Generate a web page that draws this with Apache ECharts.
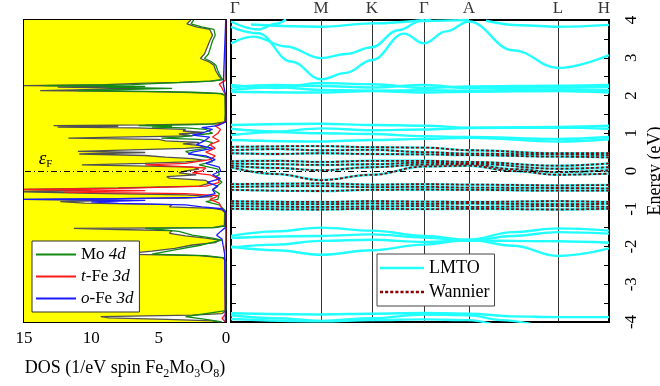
<!DOCTYPE html>
<html><head><meta charset="utf-8">
<script src="https://cdn.jsdelivr.net/npm/echarts@6/dist/echarts.min.js"></script>
<style>html,body{margin:0;padding:0;background:#fff}#c{width:660px;height:386px}</style>
</head><body><div id="c"></div>
<script>
// ---------- DATA ----------
// DOS arrays: [energy (eV), DOS (1/eV spin f.u.)]
const totalDos = [[4.0,2.6],[3.9,2.9],[3.82,2.2],[3.75,1.2],[3.6,1.0],[3.45,1.2],[3.1,1.6],[2.98,1.9],[2.9,1.3],[2.8,0.9],[2.65,0.75],[2.5,0.5],[2.42,0.3],[2.38,1.2],[2.35,3.5],[2.32,6.5],[2.29,9],[2.26,15],[2.24,8],[2.22,12.5],[2.19,6],[2.16,9.5],[2.13,13.8],[2.1,6],[2.08,2.5],[2.05,0.4],[2.0,0.08],[1.5,0.05],[1.3,0.1],[1.25,1],[1.22,6],[1.2,12.8],[1.18,8],[1.16,12.5],[1.14,6.7],[1.1,3],[1.06,3.2],[1.02,1.6],[0.98,3.5],[0.93,2.5],[0.9,8],[0.87,11.7],[0.84,5],[0.8,4.5],[0.76,2],[0.72,3.2],[0.68,2.0],[0.63,1.5],[0.6,3],[0.56,7],[0.52,11],[0.49,6],[0.45,10.9],[0.41,6],[0.37,4.5],[0.33,2.5],[0.28,1.5],[0.24,3],[0.2,6],[0.16,10.7],[0.13,5.8],[0.1,2.5],[0.05,2],[0.0,3],[-0.05,3.5],[-0.1,2.2],[-0.15,4.4],[-0.19,4.2],[-0.25,1.5],[-0.32,1.2],[-0.4,2],[-0.45,8],[-0.49,15],[-0.52,10],[-0.55,15],[-0.59,10],[-0.63,3],[-0.68,1.0],[-0.72,3],[-0.75,15],[-0.78,8],[-0.81,12.3],[-0.85,10.5],[-0.89,4],[-0.95,4.2],[-0.99,1],[-1.03,0.3],[-1.1,0.1],[-1.45,0.12],[-1.5,1.0],[-1.52,11.3],[-1.55,8],[-1.58,4],[-1.65,4.2],[-1.72,3],[-1.78,1.5],[-1.83,0.5],[-1.9,0.8],[-1.96,2.5],[-2.05,3.8],[-2.12,5.5],[-2.2,7.8],[-2.24,2],[-2.3,0.2],[-2.4,0.03],[-3.7,0.03],[-3.78,0.3],[-3.82,2.5],[-3.86,9.3],[-3.89,8.7],[-3.93,4.4],[-3.97,1.0],[-4.0,0.5]];
const moDos = [[4.0,2.4],[3.9,2.6],[3.82,1.8],[3.75,0.9],[3.6,0.8],[3.45,1.0],[3.1,1.3],[2.98,1.6],[2.9,1.1],[2.8,0.75],[2.65,0.6],[2.5,0.4],[2.42,0.25],[2.38,1.0],[2.35,3.0],[2.32,5.0],[2.29,7],[2.26,13.5],[2.24,6],[2.22,9],[2.19,4],[2.16,7],[2.13,11],[2.1,4.5],[2.08,2.0],[2.05,0.3],[2.0,0.05],[1.3,0.05],[1.25,0.6],[1.22,3],[1.2,6.5],[1.18,4],[1.16,5.5],[1.14,3],[1.1,1.5],[1.0,1.0],[0.9,3.5],[0.87,4.8],[0.84,2],[0.75,1],[0.6,1.5],[0.52,3],[0.45,2.6],[0.35,1.2],[0.25,1],[0.16,2],[0.05,0.6],[-0.1,0.5],[-0.15,0.8],[-0.3,0.3],[-0.49,1.0],[-0.6,0.5],[-0.75,0.6],[-0.81,1.5],[-0.9,0.5],[-1.05,0.05],[-1.45,0.05],[-1.5,0.8],[-1.52,6],[-1.55,5],[-1.6,3.5],[-1.7,2.5],[-1.78,1.0],[-1.83,0.3],[-1.96,1.8],[-2.1,4],[-2.2,5.5],[-2.24,1.5],[-2.3,0.1],[-2.4,0.02],[-3.7,0.02],[-3.86,3],[-3.93,1.5],[-4.0,0.3]];
const tFeDos = [[4.0,0.02],[2.4,0.05],[2.3,0.5],[2.2,0.3],[2.0,0.02],[1.3,0.02],[1.2,0.8],[1.1,0.4],[1.0,0.6],[0.9,1.0],[0.8,0.5],[0.7,1.2],[0.6,0.8],[0.5,1.5],[0.4,0.8],[0.3,1.2],[0.2,3.0],[0.16,6.0],[0.12,3.5],[0.08,1.5],[0.0,1.8],[-0.05,2.5],[-0.1,1.2],[-0.2,0.6],[-0.3,0.5],[-0.4,1.5],[-0.46,8],[-0.49,15],[-0.52,6],[-0.56,12],[-0.6,3],[-0.65,0.6],[-0.7,0.8],[-0.75,1.2],[-0.85,0.5],[-1.0,0.3],[-1.1,0.02],[-1.9,0.02],[-2.2,0.1],[-3.8,0.05],[-3.9,0.3],[-4.0,0.05]];
const oFeDos = [[4.0,0.02],[2.3,0.2],[2.0,0.02],[1.3,0.02],[1.2,0.6],[1.15,1.8],[1.1,1.0],[1.0,1.8],[0.95,2.5],[0.9,1.2],[0.8,1.6],[0.7,2.2],[0.6,1.0],[0.5,2.5],[0.45,2.8],[0.4,1.5],[0.3,0.8],[0.2,1.5],[0.1,0.5],[0.0,0.4],[-0.1,1.0],[-0.2,0.4],[-0.3,1.4],[-0.4,0.6],[-0.5,1.0],[-0.6,0.8],[-0.7,2],[-0.73,8],[-0.75,15],[-0.78,6],[-0.82,10],[-0.86,8],[-0.9,3],[-0.95,1.8],[-1.0,0.3],[-1.1,0.02],[-1.5,0.05],[-1.6,0.4],[-1.7,0.7],[-1.8,0.3],[-2.0,0.2],[-2.2,0.1],[-3.8,0.05],[-4.0,0.05]];

// k-path: distances along path and labels
const kPoints = [0, 90, 141, 193, 238, 327, 378];
const kLabels = ['Γ', 'M', 'K', 'Γ', 'A', 'L', 'H'];

// LMTO-only bands: [k, E]
const bandsUpper = [
  [[0,3.38],[22,3.56],[55,3.3],[90,2.99],[115,3.1],[141,3.28],[167,3.73],[190,3.97],[200,4.05]],
  [[0,3.82],[27,3.65],[60,2.9],[90,2.43],[115,2.6],[141,2.94],[173,3.64],[193,3.38],[215,3.7],[238,3.96],[282,3.2],[327,2.73],[378,3.07]],
  [[0,3.96],[27,3.75],[45,3.9],[55,4.02]],
  [[20,3.88],[90,3.82],[141,3.91],[193,4.0]],
  [[193,3.97],[238,4.0]],
  [[255,3.98],[290,3.86],[327,3.82],[378,3.87]],
  [[0,2.28],[45,2.2],[90,2.33],[141,2.3],[193,2.2],[238,2.24],[327,2.26],[378,2.28]],
  [[0,2.22],[45,2.28],[90,2.25],[141,2.21],[193,2.28],[238,2.2],[327,2.21],[378,2.23]],
  [[0,2.15],[45,2.22],[90,2.15],[141,2.13],[193,2.14],[238,2.13],[327,2.16],[378,2.15]],
  [[0,2.1],[90,2.08],[141,2.12],[193,2.08],[238,2.1],[327,2.12],[378,2.08]],
  [[0,1.22],[90,1.25],[141,1.22],[193,1.2],[238,1.15],[327,1.17],[378,1.2]],
  [[0,1.12],[45,1.05],[90,1.13],[141,1.08],[193,1.1],[238,1.14],[327,1.15],[378,1.12]],
  [[0,0.95],[45,1.03],[90,1.0],[141,0.98],[193,0.92],[238,0.9],[327,0.85],[378,0.9]],
  [[0,0.82],[90,0.78],[141,0.82],[193,0.85],[238,0.88],[327,0.78],[378,0.84]]
];
const bandsLower = [
  [[0,-1.72],[45,-1.6],[90,-1.5],[141,-1.58],[193,-1.72],[238,-1.82],[282,-1.62],[327,-1.52],[378,-1.58]],
  [[0,-1.77],[90,-1.72],[141,-1.68],[193,-1.76],[238,-1.85],[282,-1.72],[327,-1.62],[378,-1.66]],
  [[0,-2.0],[45,-2.1],[90,-2.22],[141,-2.1],[193,-1.95],[238,-1.82],[282,-1.98],[327,-2.25],[378,-2.05]],
  [[0,-2.03],[45,-1.95],[90,-1.85],[141,-1.82],[193,-1.88],[238,-1.84],[327,-1.86],[378,-1.9]],
  [[0,-3.77],[90,-3.8],[141,-3.78],[193,-3.76],[238,-3.78],[282,-3.85],[327,-3.87],[378,-3.87]],
  [[0,-3.82],[45,-3.9],[90,-3.97],[141,-3.9],[193,-3.8],[238,-3.82],[270,-3.95],[300,-4.05]],
  [[0,-3.92],[90,-3.98],[141,-3.95],[193,-3.93],[238,-3.95],[260,-4.05]]
];
// bands reproduced by the Wannier model (also present in LMTO)
const bandsWannier = [
  [[0,0.64],[90,0.66],[141,0.63],[193,0.62],[238,0.55],[327,0.47],[378,0.47]],
  [[0,0.55],[45,0.58],[90,0.55],[141,0.56],[193,0.5],[238,0.46],[327,0.44],[378,0.42]],
  [[0,0.47],[45,0.45],[90,0.47],[141,0.45],[193,0.44],[238,0.42],[327,0.38],[378,0.36]],
  [[0,0.26],[45,0.27],[90,0.24],[141,0.27],[193,0.27],[238,0.24],[327,0.14],[378,0.2]],
  [[0,0.2],[45,0.18],[90,0.16],[141,0.18],[193,0.22],[238,0.2],[327,0.06],[378,0.1]],
  [[0,0.14],[45,0.08],[90,0.02],[141,0.1],[193,0.17],[238,0.18],[282,0.05],[327,-0.03],[378,0.02]],
  [[0,0.1],[45,-0.08],[90,-0.24],[141,-0.1],[193,0.12],[238,0.14],[282,0.0],[327,-0.1],[378,-0.07]],
  [[0,-0.35],[90,-0.33],[141,-0.36],[193,-0.35],[238,-0.36],[327,-0.38],[378,-0.37]],
  [[0,-0.42],[90,-0.4],[141,-0.43],[193,-0.42],[238,-0.44],[327,-0.45],[378,-0.46]],
  [[0,-0.5],[90,-0.53],[141,-0.5],[193,-0.49],[238,-0.5],[327,-0.52],[378,-0.52]],
  [[0,-0.8],[90,-0.82],[141,-0.8],[193,-0.81],[238,-0.82],[327,-0.8],[378,-0.82]],
  [[0,-0.86],[90,-0.88],[141,-0.86],[193,-0.87],[238,-0.86],[327,-0.88],[378,-0.87]],
  [[0,-0.93],[90,-0.95],[141,-0.94],[193,-0.93],[238,-0.95],[327,-0.93],[378,-0.95]],
  [[0,-1.0],[90,-1.02],[141,-1.0],[193,-1.01],[238,-1.0],[327,-1.02],[378,-1.0]]
];

// ---------- CHART ----------
const FONT = 'Liberation Serif';
const chart = echarts.init(document.getElementById('c'), null, {renderer: 'canvas'});
const CYAN = '#22ffff', WRED = '#8b0000';
const efLine = {silent: true, symbol: 'none', label: {show: false},
  lineStyle: {color: '#000', width: 1, type: [6, 3, 1, 3]}, data: [{yAxis: 0}]};

function dosSeries(name, arr, color, z) {
  return {type: 'line', name: name, xAxisIndex: 0, yAxisIndex: 0, symbol: 'none',
    data: arr.map(d => [d[1], d[0]]), lineStyle: {color: color, width: 1.3}, itemStyle: {color: color},
    z: z};
}
const series = [];
// yellow DOS panel background (scaled by the axes)
series.push({type: 'custom', xAxisIndex: 0, yAxisIndex: 0, data: [[7, 0]], z: 1, silent: true,
  renderItem: function (params, api) {
    const p0 = api.coord([15, 4]), p1 = api.coord([0, -4]);
    return {type: 'rect', shape: {x: p0[0], y: p0[1], width: p1[0] - p0[0], height: p1[1] - p0[1]}, style: {fill: '#ffff00'}};
  }});
// white area under the total DOS: area fill toward DOS = 0, using a hidden linear energy axis as base axis
series.push({type: 'line', xAxisIndex: 0, yAxisIndex: 4, symbol: 'none', silent: true, z: 2,
  data: totalDos.map(d => [d[1], d[0]]),
  lineStyle: {width: 0, opacity: 0}, areaStyle: {color: '#ffffff', opacity: 1}});
series.push(Object.assign(dosSeries('Total', totalDos, '#505050', 3), {markLine: efLine,
  markPoint: {symbol: 'circle', symbolSize: 0, data: [{coord: [13.4, 0.33]}],
    label: {show: true, formatter: '{e|ε}{f|F}', rich: {
      e: {fontFamily: FONT, fontStyle: 'italic', fontSize: 19, color: '#000', verticalAlign: 'middle', lineHeight: 22},
      f: {fontFamily: FONT, fontSize: 11, color: '#000', verticalAlign: 'bottom', lineHeight: 12}}}}}));
series.push(dosSeries('Mo 4d', moDos, '#128a12', 4));
series.push(dosSeries('t-Fe 3d', tFeDos, '#ff1a1a', 5));
series.push(dosSeries('o-Fe 3d', oFeDos, '#1a1aff', 6));

// symmetry lines + labels
series.push({type: 'scatter', xAxisIndex: 2, yAxisIndex: 2, symbolSize: 0, clip: false, silent: true,
  data: kPoints.map((k, i) => ({value: [k, 4], label: {show: true, position: 'top', distance: 3,
    formatter: kLabels[i], fontFamily: FONT, fontSize: 17, color: '#000',
    align: i === 0 ? 'left' : (i === kPoints.length - 1 ? 'right' : 'center'),
    offset: i === 0 ? [-1, 0] : (i === kPoints.length - 1 ? [1, 0] : [0, 0])}})),
  markLine: {silent: true, symbol: 'none', label: {show: false}, z: 1,
    lineStyle: {color: '#333', width: 1, type: 'solid'},
    data: kPoints.slice(1, -1).map(k => ({xAxis: k}))}, z: 1});

function bandSeries(name, arr, color, width, type, z) {
  return {type: 'line', name: name, xAxisIndex: 2, yAxisIndex: 2, symbol: 'none', smooth: 0.4,
    smoothMonotone: 'x', data: arr, lineStyle: {color: color, width: width, type: type},
    itemStyle: {color: color}, z: z};
}
bandsUpper.concat(bandsLower).forEach(b => series.push(bandSeries('LMTO', b, CYAN, 2.4, 'solid', 3)));
bandsWannier.forEach(b => series.push(bandSeries('LMTO', b, CYAN, 2.4, 'solid', 3)));
bandsWannier.forEach(b => series.push(bandSeries('Wannier', b, WRED, 1.8, [3, 2], 4)));
series.push({type: 'line', xAxisIndex: 2, yAxisIndex: 2, data: [], markLine: efLine, z: 6});

const dosNames = {'Mo 4d': '{r|Mo }{i|4d}', 't-Fe 3d': '{i|t}{r|-Fe }{i|3d}', 'o-Fe 3d': '{i|o}{r|-Fe }{i|3d}'};
const richLeg = {r: {fontFamily: FONT, fontSize: 17, color: '#000'}, i: {fontFamily: FONT, fontSize: 17, fontStyle: 'italic', color: '#000'}};
const dashIcon = 'path://M0,0h3v2h-3z M5,0h3v2h-3z M10,0h3v2h-3z M15,0h3v2h-3z M20,0h3v2h-3z M25,0h3v2h-3z M30,0h3v2h-3z M35,0h3v2h-3z M40,0h3v2h-3z';

const option = {
  animation: false,
  backgroundColor: '#fff',
  grid: [
    {left: 24, top: 20, width: 202, height: 302, show: true, backgroundColor: 'transparent', borderColor: '#000', borderWidth: 2, outerBoundsMode: 'none'},
    {left: 231, top: 20, width: 378, height: 302, show: true, backgroundColor: 'transparent', borderColor: '#000', borderWidth: 2, outerBoundsMode: 'none'}
  ],
  xAxis: [
    {type: 'value', gridIndex: 0, min: 0, max: 15, interval: 2.5, inverse: true, position: 'bottom',
      axisLine: {show: false, onZero: false}, splitLine: {show: false},
      axisTick: {show: true, inside: true, length: 5, lineStyle: {color: '#000'}},
      axisLabel: {fontFamily: FONT, fontSize: 17, color: '#000', margin: 8,
        formatter: v => (v % 5 === 0 ? String(v) : '')},
      name: '{a|DOS (1/eV spin Fe}{s|2}{a|Mo}{s|3}{a|O}{s|8}{a|)}', nameLocation: 'middle', nameGap: 34,
      nameTextStyle: {rich: {a: {fontFamily: FONT, fontSize: 18, color: '#000', lineHeight: 24, verticalAlign: 'middle'},
        s: {fontFamily: FONT, fontSize: 12, color: '#000', lineHeight: 12, verticalAlign: 'bottom'}}}},
    {type: 'value', gridIndex: 0, min: 0, max: 15, interval: 2.5, inverse: true, position: 'top',
      axisLine: {show: false, onZero: false}, splitLine: {show: false}, axisLabel: {show: false},
      axisTick: {show: true, inside: true, length: 5, lineStyle: {color: '#000'}}},
    {type: 'value', gridIndex: 1, min: 0, max: 378, position: 'bottom',
      axisLine: {show: false, onZero: false}, splitLine: {show: false}, axisLabel: {show: false}, axisTick: {show: false}}
  ],
  yAxis: [
    {type: 'value', gridIndex: 0, min: -4, max: 4, interval: 1, position: 'left',
      axisLine: {show: false, onZero: false}, splitLine: {show: false}, axisLabel: {show: false},
      axisTick: {show: true, inside: true, length: 5, lineStyle: {color: '#000'}}},
    {type: 'value', gridIndex: 0, min: -4, max: 4, interval: 1, position: 'right',
      axisLine: {show: false, onZero: false}, splitLine: {show: false}, axisLabel: {show: false},
      axisTick: {show: true, inside: true, length: 5, lineStyle: {color: '#000'}}},
    {type: 'value', gridIndex: 1, min: -4, max: 4, interval: 0.5, position: 'left',
      axisLine: {show: false, onZero: false}, splitLine: {show: false}, axisLabel: {show: false},
      axisTick: {show: true, inside: true, length: 5, lineStyle: {color: '#000'}}},
    {type: 'value', gridIndex: 1, min: -4, max: 4, interval: 0.5, position: 'right',
      axisLine: {show: false, onZero: false}, splitLine: {show: false},
      axisTick: {show: true, inside: true, length: 5, lineStyle: {color: '#000'}},
      axisLabel: {fontFamily: FONT, fontSize: 17, color: '#000', rotate: 90, margin: 14,
        formatter: v => (Math.abs(v % 1) < 1e-9 ? String(v) : '')},
      name: 'Energy (eV)', nameLocation: 'middle', nameGap: 37, nameRotate: 90, nameMoveOverlap: false,
      nameTextStyle: {fontFamily: FONT, fontSize: 18, color: '#000'}},
    {type: 'time', gridIndex: 0, min: -4, max: 4, position: 'left', show: false,
      axisLine: {show: false, onZero: false}, splitLine: {show: false}, axisLabel: {show: false}, axisTick: {show: false}}
  ],
  legend: [
    {data: [{name: 'Mo 4d', icon: 'rect'}, {name: 't-Fe 3d', icon: 'rect'}, {name: 'o-Fe 3d', icon: 'rect'}],
      orient: 'vertical', left: 32, top: 241, symbolKeepAspect: false,
      padding: [4, 6, 4, 4], itemGap: 3, itemWidth: 40, itemHeight: 2,
      backgroundColor: '#fff', borderColor: '#333', borderWidth: 1, borderRadius: 0,
      selectedMode: false, formatter: n => dosNames[n], textStyle: {lineHeight: 19, rich: richLeg}},
    {data: [{name: 'LMTO', icon: 'rect'}, {name: 'Wannier', icon: dashIcon}],
      orient: 'vertical', left: 377, top: 254, symbolKeepAspect: false,
      padding: [4, 5, 4, 3], itemGap: 4, itemWidth: 44, itemHeight: 2.5,
      backgroundColor: '#fff', borderColor: '#444', borderWidth: 1, borderRadius: 0,
      selectedMode: false, textStyle: {fontFamily: FONT, fontSize: 18, color: '#000', lineHeight: 20}}
  ],
  series: series
};
chart.setOption(option);
</script></body></html>
